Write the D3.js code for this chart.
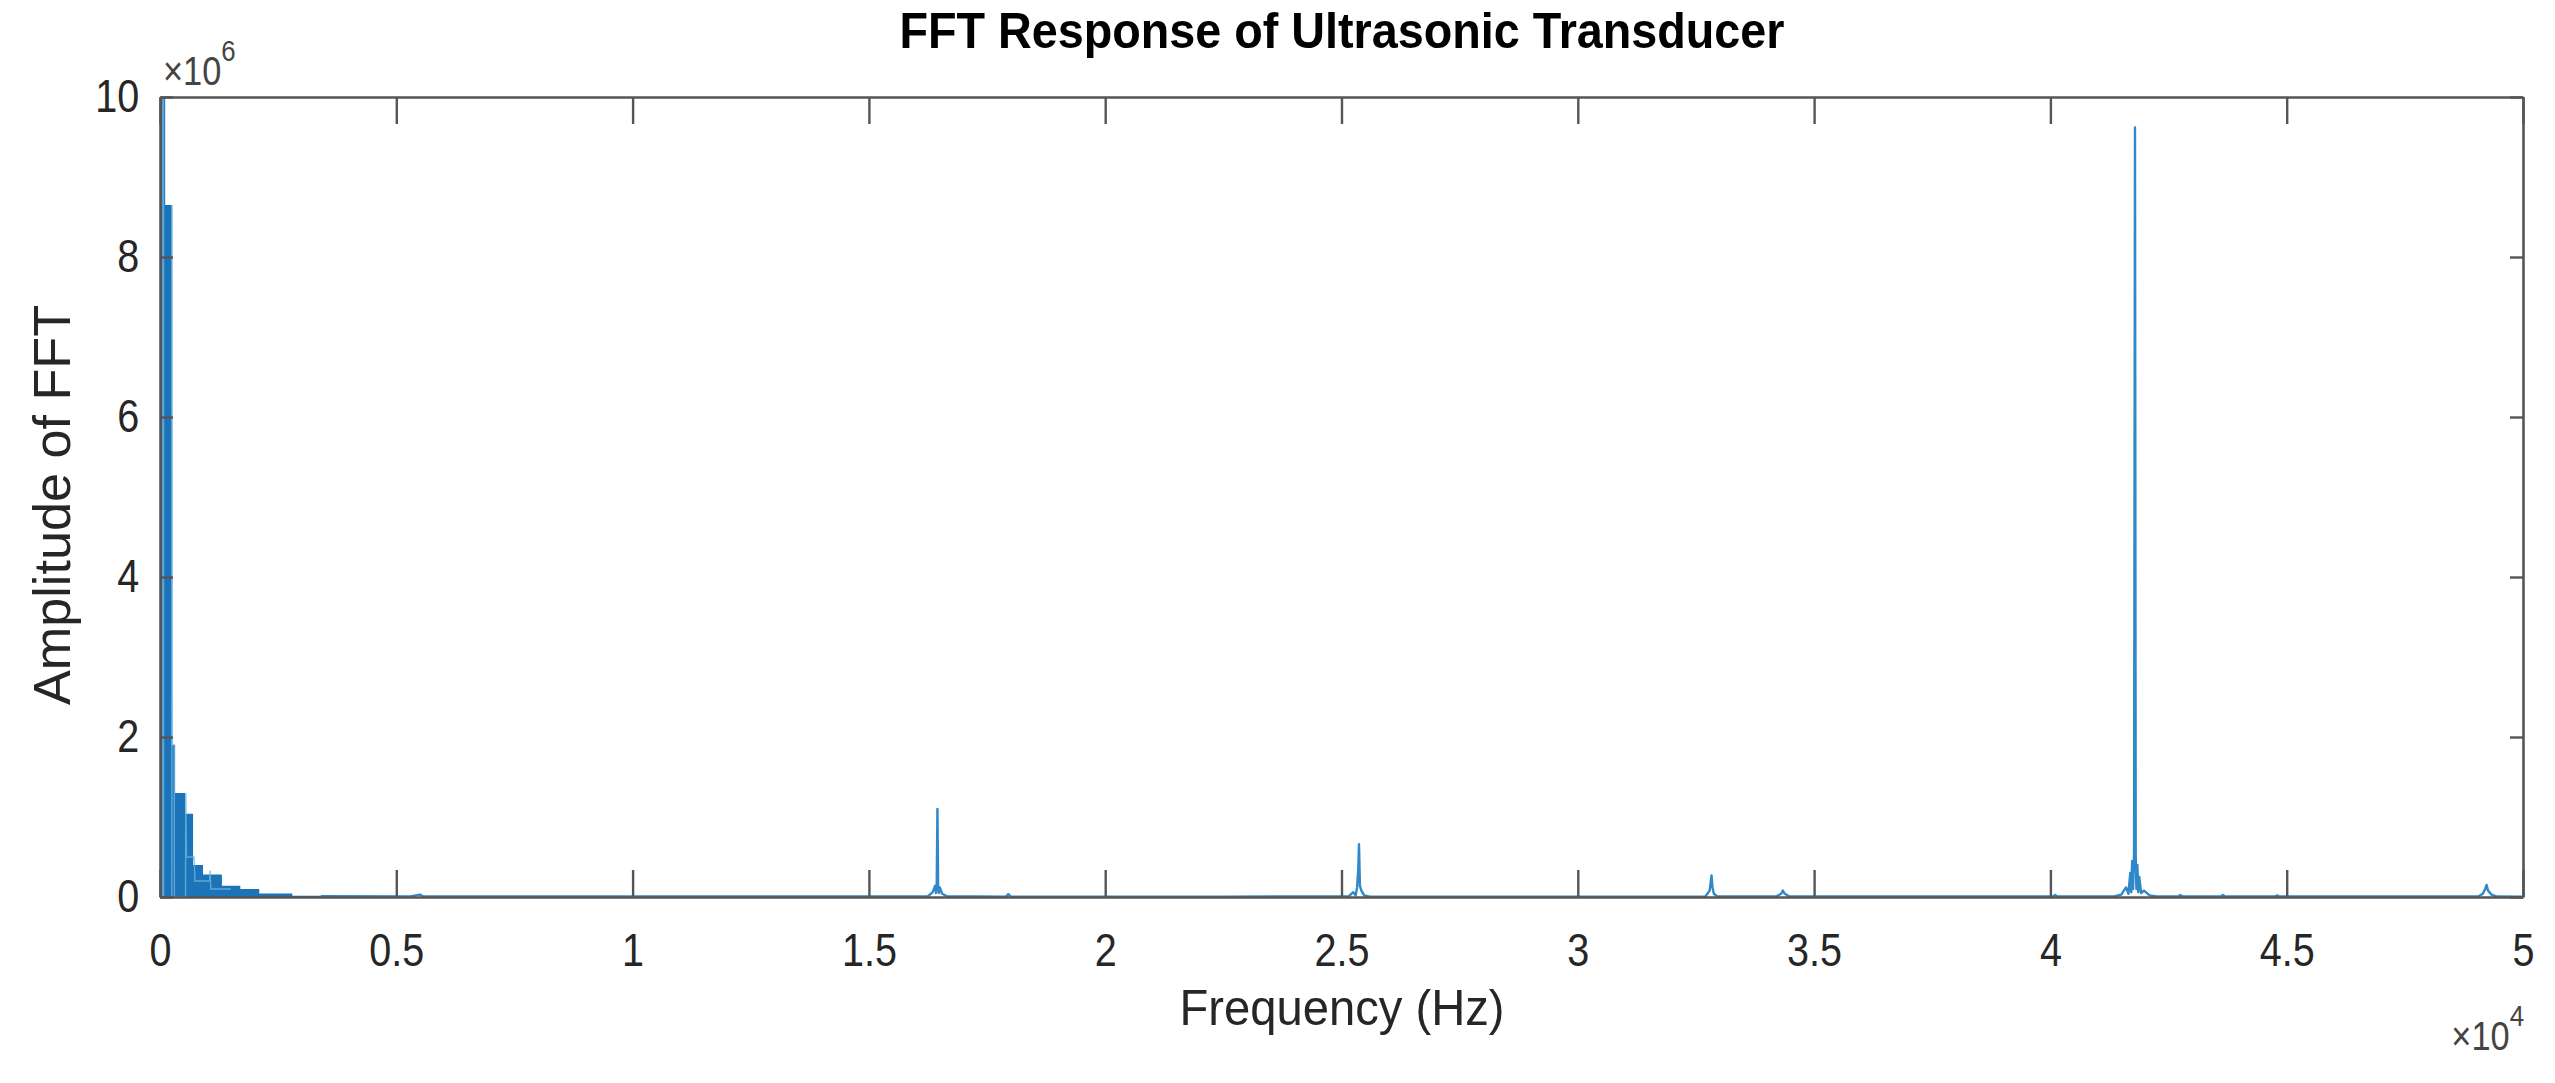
<!DOCTYPE html>
<html><head><meta charset="utf-8">
<script src="https://cdn.jsdelivr.net/npm/d3@7"></script>
<style>
body{margin:0;background:#fff;}
svg{display:block;}
text{font-family:"Liberation Sans",Arial,Helvetica,sans-serif;}
</style>
</head><body>
<svg id="c" width="2555" height="1083"></svg>
<script>
// ---- data ----
const xTicks = [0, 5000, 10000, 15000, 20000, 25000, 30000, 35000, 40000, 45000, 50000];
const xTickLabels = ["0", "0.5", "1", "1.5", "2", "2.5", "3", "3.5", "4", "4.5", "5"];
const yTicks = [0, 2e6, 4e6, 6e6, 8e6, 10e6];
const yTickLabels = ["0", "2", "4", "6", "8", "10"];
// dense low-frequency band (Hz, amplitude) – envelope of the packed FFT samples
const bandFreq = [0, 110, 250, 320, 530, 700, 910, 1310, 1700, 2100, 2800, 3400];
const bandAmp  = [10.0e6, 8.65e6, 1.9e6, 1.3e6, 1.04e6, 0.4e6, 0.28e6, 0.14e6, 0.1e6, 0.045e6, 0.015e6, 0.008e6];
// light streaks inside the band: [frequency Hz, amplitude]
const streaks = [
  [60, 0], [60, 10e6], [75, 10e6], [75, 0], [250, 0], [255, 8.65e6], [262, 1.9e6],
  [300, 1.9e6], [305, 0], [540, 0], [545, 1.3e6], [560, 0.5e6], [720, 0.5e6], [740, 0.2e6],
  [1050, 0.2e6], [1060, 0.33e6], [1075, 0.1e6], [1500, 0.1e6]
];
// FFT line beyond the band: [frequency Hz, amplitude]
const spectrum = [
  [3400, 0.01e6], [5300, 0.008e6], [5500, 0.03e6], [5560, 0.008e6], [9000, 0.006e6],
  [13500, 0.006e6], [16250, 0.01e6], [16350, 0.06e6], [16400, 0.14e6], [16420, 0.05e6],
  [16435, 0.16e6], [16450, 1.10e6], [16465, 0.15e6], [16480, 0.05e6], [16500, 0.12e6],
  [16550, 0.04e6], [16650, 0.01e6], [17900, 0.005e6], [17950, 0.035e6], [18000, 0.005e6],
  [22500, 0.005e6], [25150, 0.008e6], [25250, 0.06e6], [25300, 0.02e6], [25330, 0.12e6],
  [25355, 0.35e6], [25370, 0.66e6], [25390, 0.14e6], [25420, 0.08e6], [25480, 0.02e6],
  [25600, 0.005e6], [28000, 0.004e6], [32700, 0.008e6], [32790, 0.08e6], [32830, 0.27e6],
  [32850, 0.12e6], [32880, 0.04e6], [32950, 0.006e6], [34200, 0.006e6], [34300, 0.04e6],
  [34340, 0.08e6], [34380, 0.04e6], [34480, 0.006e6], [40050, 0.006e6], [40100, 0.025e6],
  [40150, 0.006e6], [41350, 0.006e6], [41500, 0.03e6], [41600, 0.12e6], [41650, 0.04e6],
  [41690, 0.3e6], [41710, 0.06e6], [41730, 0.45e6], [41750, 0.1e6], [41770, 0.54e6],
  [41790, 9.62e6], [41805, 0.52e6], [41820, 0.1e6], [41840, 0.4e6], [41860, 0.06e6],
  [41880, 0.25e6], [41920, 0.05e6], [41980, 0.08e6], [42100, 0.02e6], [42250, 0.006e6],
  [42700, 0.006e6], [42750, 0.025e6], [42800, 0.006e6], [43600, 0.006e6], [43650, 0.025e6],
  [43700, 0.006e6], [44750, 0.006e6], [44800, 0.02e6], [44850, 0.006e6], [49050, 0.006e6],
  [49150, 0.04e6], [49200, 0.10e6], [49230, 0.15e6], [49260, 0.08e6], [49330, 0.03e6],
  [49450, 0.006e6], [50000, 0.004e6]
];
const titleText = "FFT Response of Ultrasonic Transducer";
const xLabelText = "Frequency (Hz)";
const yLabelText = "Amplitude of FFT";

// ---- layout ----
const M = {left: 160, right: 2523, top: 97, bottom: 897};
const x = d3.scaleLinear().domain([0, 50000]).range([M.left, M.right]);
const y = d3.scaleLinear().domain([0, 10e6]).range([M.bottom, M.top]);
const svg = d3.select("#c");
const lineBlue = "#2f88c7", bandBlue = "#1b74b8", axisCol = "#555555", txtCol = "#262626";
const SX = 0.86; // horizontal condense of the lettering

svg.append("clipPath").attr("id", "plot").append("rect")
  .attr("x", M.left).attr("y", M.top).attr("width", M.right - M.left).attr("height", M.bottom - M.top);

// band
svg.append("path")
  .datum(bandFreq.map((f, i) => [f, bandAmp[i]]))
  .attr("clip-path", "url(#plot)")
  .attr("fill", bandBlue)
  .attr("d", d3.area().x(d => x(d[0])).y0(y(0)).y1(d => y(d[1])).curve(d3.curveStepAfter));

// light streaks within/above the packed band
svg.append("path")
  .datum(streaks)
  .attr("clip-path", "url(#plot)")
  .attr("fill", "none").attr("stroke", "#6fb3e0").attr("stroke-width", 1.4).attr("opacity", 0.8)
  .attr("d", d3.line().x(d => x(d[0])).y(d => y(d[1])));

// line
svg.append("path")
  .datum(spectrum)
  .attr("clip-path", "url(#plot)")
  .attr("fill", "none").attr("stroke", lineBlue).attr("stroke-width", 2.4)
  .attr("stroke-linejoin", "round")
  .attr("d", d3.line().x(d => x(d[0])).y(d => y(d[1])));

// axes
function styleAxis(g) {
  g.select(".domain").attr("stroke", axisCol).attr("stroke-width", 2.6);
  g.selectAll(".tick line").attr("stroke", axisCol).attr("stroke-width", 2.4);
  g.selectAll("text").attr("fill", txtCol).attr("font-size", 46)
    .attr("transform", `scale(${SX},1)`);
}
svg.append("g").attr("transform", `translate(0,${M.bottom})`)
  .call(d3.axisBottom(x).tickValues(xTicks).tickFormat((d, i) => xTickLabels[i])
    .tickSizeInner(-27).tickSizeOuter(0).tickPadding(36))
  .call(styleAxis);
svg.append("g").attr("transform", `translate(0,${M.top})`)
  .call(d3.axisTop(x).tickValues(xTicks).tickFormat("").tickSizeInner(-27).tickSizeOuter(0))
  .call(styleAxis);
svg.append("g").attr("transform", `translate(${M.left},0)`)
  .call(d3.axisLeft(y).tickValues(yTicks).tickFormat((d, i) => yTickLabels[i])
    .tickSizeInner(-13).tickSizeOuter(0).tickPadding(24))
  .call(styleAxis);
svg.append("g").attr("transform", `translate(${M.right},0)`)
  .call(d3.axisRight(y).tickValues(yTicks).tickFormat("").tickSizeInner(-13).tickSizeOuter(0))
  .call(styleAxis);
svg.selectAll(".tick text").attr("font-family", "'Liberation Sans', Arial, sans-serif");

// exponent labels
function expLabel(xr, yb, exp, anchorEnd) {
  const g = svg.append("g").attr("transform", `translate(${xr},${yb}) scale(${SX},1)`);
  const t = g.append("text").attr("fill", "#444").attr("font-size", 40)
    .attr("text-anchor", anchorEnd ? "end" : "start");
  t.append("tspan").text("×10");
  t.append("tspan").attr("font-size", 30).attr("dy", -24).text(exp);
}
expLabel(163, 85, "6", false);
expLabel(2524, 1050, "4", true);

// title
svg.append("text").attr("x", 1342).attr("y", 48).attr("text-anchor", "middle")
  .attr("font-size", 50).attr("font-weight", "bold").attr("fill", "#000")
  .attr("textLength", 885).attr("lengthAdjust", "spacingAndGlyphs")
  .text(titleText);

// x label
svg.append("text").attr("x", 1342).attr("y", 1025).attr("text-anchor", "middle")
  .attr("font-size", 50).attr("fill", txtCol)
  .attr("textLength", 325).attr("lengthAdjust", "spacingAndGlyphs")
  .text(xLabelText);

// y label
svg.append("text").attr("transform", `translate(70,505) rotate(-90)`)
  .attr("text-anchor", "middle").attr("font-size", 52).attr("fill", txtCol)
  .attr("textLength", 400).attr("lengthAdjust", "spacingAndGlyphs")
  .text(yLabelText);
</script>
</body></html>
